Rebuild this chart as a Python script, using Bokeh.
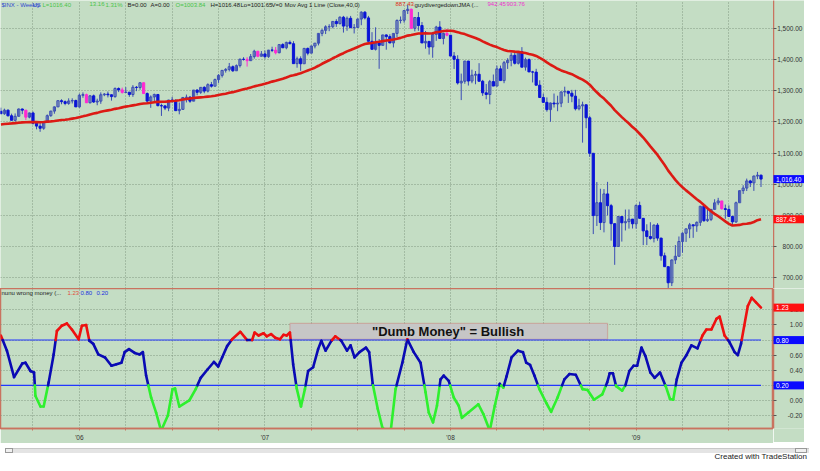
import numpy as np
import pandas as pd
from bokeh.plotting import figure
from bokeh.layouts import column, row
from bokeh.models import Range1d, FixedTicker, NumeralTickFormatter, Label, ColumnDataSource, BoxAnnotation, Div
from bokeh.core.properties import value
from bokeh.embed import file_html
from bokeh.resources import INLINE

# ---------------- data ----------------
first_week = "2005-08-05"

# 39 weekly closes before the first visible bar (feed the 40-week average)
history_closes = [1166.2, 1184.2, 1170.3, 1182.7, 1191.2, 1188.0, 1194.2, 1210.1, 1211.9, 1186.2,
                  1184.5, 1167.9, 1171.4, 1203.0, 1205.3, 1201.6, 1211.4, 1222.1, 1200.1, 1190.2,
                  1171.4, 1172.9, 1181.2, 1142.6, 1152.1, 1156.9, 1178.8, 1154.1, 1189.3, 1198.8,
                  1196.0, 1198.1, 1217.0, 1191.6, 1194.4, 1211.9, 1227.9, 1229.4, 1234.2]

opens = [
    # 2005
    1234.2, 1226.4, 1237.8, 1219.7, 1205.1, 1218.0, 1241.5, 1237.9, 1215.3, 1228.8, 1195.9, 1186.6, 1179.6, 1198.4,
    1220.1, 1234.7, 1248.3, 1268.3, 1265.1, 1259.4, 1267.3, 1268.7,
    # 2006
    1248.3, 1285.5, 1287.6, 1261.5, 1283.7, 1264.0, 1266.9, 1287.2, 1289.4, 1287.2, 1281.4, 1307.3, 1302.9, 1294.8,
    1295.5, 1288.1, 1311.3, 1310.6, 1325.8, 1291.2, 1267.0, 1280.2, 1288.2, 1252.3, 1251.5, 1244.5, 1270.2, 1265.5,
    1236.2, 1240.3, 1278.6, 1279.4, 1266.7, 1302.3, 1295.1, 1311.0, 1299.0, 1319.7, 1314.8, 1335.9, 1349.6, 1365.6,
    1368.6, 1377.3, 1364.3, 1380.9, 1401.2, 1400.9, 1396.7, 1409.8, 1427.1, 1410.8,
    # 2007
    1418.3, 1409.7, 1430.7, 1430.5, 1422.2, 1448.4, 1438.1, 1455.5, 1451.2, 1387.2, 1402.8, 1386.9, 1436.1, 1420.9,
    1443.8, 1452.9, 1484.4, 1494.1, 1505.6, 1505.9, 1522.8, 1515.7, 1536.3, 1507.7, 1532.9, 1502.6, 1503.4, 1530.4,
    1552.5, 1534.1, 1458.9, 1433.1, 1453.6, 1445.9, 1479.4, 1474.0, 1453.6, 1484.3, 1525.8, 1526.8, 1557.6, 1561.8,
    1500.6, 1535.3, 1509.7, 1453.7, 1458.7, 1440.7, 1481.1, 1504.7, 1467.9, 1484.5,
    # 2008
    1478.5, 1411.6, 1401.0, 1325.2, 1330.6, 1395.4, 1331.3, 1350.0, 1353.1, 1330.6, 1293.4, 1288.1, 1329.5, 1315.2,
    1370.4, 1332.8, 1390.3, 1397.8, 1413.9, 1388.3, 1425.4, 1375.9, 1400.4, 1360.7, 1360.0, 1317.9, 1278.4, 1262.9,
    1239.5, 1260.7, 1257.8, 1260.3, 1296.3, 1298.2, 1292.2, 1282.8, 1242.3, 1251.7, 1255.1, 1213.3, 1099.2, 899.2,
    940.6, 876.8, 968.8, 931.0, 873.3, 800.0, 896.2, 876.1, 879.7, 887.9,
    # 2009
    872.8, 931.8, 890.4, 850.1, 831.95, 825.9, 868.6, 826.8, 770.05, 735.1, 683.4, 756.6, 768.5, 815.9,
    842.5, 856.6, 869.6, 866.2, 877.5, 929.2, 882.9, 887.0, 919.1, 940.1, 946.2, 921.2, 918.9, 896.4,
    879.1, 940.4, 979.3, 987.5, 1010.5, 1004.1, 1026.1, 1028.9,
]

highs = [
    # 2005
    1245.9, 1242.6, 1239.9, 1226.6, 1227.3, 1243.1, 1242.9, 1237.9, 1229.9, 1233.3, 1198.7, 1197.3, 1198.4, 1224.0,
    1235.7, 1249.6, 1268.8, 1272.9, 1269.0, 1275.8, 1275.8, 1271.8,
    # 2006
    1290.8, 1294.9, 1290.8, 1286.4, 1287.9, 1274.6, 1294.9, 1292.7, 1297.6, 1288.5, 1310.9, 1310.9, 1310.2, 1311.7,
    1295.5, 1318.2, 1315.4, 1326.7, 1326.7, 1294.9, 1285.2, 1290.7, 1288.2, 1258.6, 1253.4, 1271.0, 1280.4, 1273.3,
    1262.4, 1280.0, 1287.9, 1283.3, 1302.3, 1305.0, 1312.0, 1314.7, 1324.0, 1328.5, 1339.2, 1353.5, 1366.6, 1372.9,
    1389.4, 1381.4, 1384.6, 1403.8, 1407.9, 1407.9, 1418.1, 1431.8, 1427.1, 1427.7,
    # 2007
    1429.4, 1431.2, 1441.6, 1440.7, 1449.3, 1452.9, 1457.6, 1461.6, 1459.3, 1409.8, 1410.6, 1437.7, 1438.9, 1444.9,
    1453.1, 1484.7, 1498.0, 1510.3, 1513.8, 1522.8, 1529.9, 1539.1, 1540.6, 1538.7, 1540.5, 1514.3, 1532.4, 1555.1,
    1555.9, 1540.6, 1488.3, 1503.9, 1466.3, 1479.4, 1481.2, 1481.5, 1484.3, 1529.4, 1538.7, 1558.0, 1576.1, 1563.8,
    1535.3, 1552.8, 1520.8, 1492.1, 1458.7, 1488.9, 1508.6, 1523.6, 1486.7, 1498.9,
    # 2008
    1478.5, 1424.5, 1414.2, 1355.2, 1396.0, 1396.0, 1367.9, 1363.4, 1388.7, 1335.1, 1321.7, 1334.9, 1352.3, 1380.9,
    1380.9, 1395.9, 1404.6, 1422.7, 1424.0, 1425.4, 1440.2, 1406.3, 1404.1, 1364.1, 1370.6, 1333.8, 1290.7, 1278.7,
    1262.3, 1291.2, 1284.2, 1297.9, 1313.2, 1298.2, 1303.0, 1303.0, 1274.4, 1265.1, 1255.1, 1220.0, 1099.2, 1006.9,
    985.4, 984.4, 1007.5, 936.6, 873.3, 896.2, 896.2, 918.6, 918.9, 887.9,
    # 2009
    934.7, 943.9, 890.4, 871.3, 877.9, 870.7, 875.0, 827.8, 780.1, 735.1, 758.3, 804.5, 832.1, 845.6,
    857.4, 875.6, 869.6, 880.4, 930.2, 929.6, 924.6, 920.0, 951.7, 956.2, 946.2, 934.6, 931.9, 898.6,
    944.0, 979.8, 996.7, 1018.0, 1014.1, 1027.6, 1039.5, 1030.9,
]

lows = [
    # 2005
    1224.6, 1222.7, 1217.5, 1205.1, 1201.1, 1218.0, 1225.0, 1205.4, 1211.6, 1191.8, 1176.2, 1168.2, 1174.8, 1198.4,
    1216.5, 1226.4, 1248.3, 1256.7, 1253.6, 1255.0, 1259.2, 1248.3,
    # 2006
    1245.7, 1277.6, 1260.9, 1259.4, 1261.0, 1253.6, 1258.1, 1282.7, 1278.7, 1268.4, 1277.6, 1295.8, 1291.0, 1293.3,
    1280.7, 1280.7, 1298.8, 1303.4, 1291.2, 1259.0, 1245.3, 1262.1, 1250.0, 1219.3, 1238.0, 1234.4, 1261.8, 1234.9,
    1224.5, 1238.6, 1262.6, 1261.3, 1266.7, 1285.6, 1290.1, 1292.0, 1294.8, 1310.2, 1313.9, 1325.3, 1342.6, 1358.5,
    1362.2, 1360.5, 1364.3, 1374.8, 1397.0, 1377.8, 1396.7, 1403.3, 1407.9, 1410.8,
    # 2007
    1403.0, 1405.8, 1424.2, 1416.9, 1420.6, 1437.8, 1433.4, 1449.5, 1386.6, 1374.1, 1364.0, 1386.9, 1413.9, 1420.9,
    1436.3, 1445.8, 1475.4, 1482.3, 1491.4, 1500.7, 1505.2, 1513.1, 1487.0, 1492.7, 1502.6, 1484.2, 1503.4, 1510.6,
    1529.2, 1458.9, 1433.1, 1429.4, 1370.6, 1445.9, 1432.0, 1453.6, 1439.3, 1471.8, 1516.3, 1518.6, 1546.7, 1500.6,
    1490.9, 1492.7, 1453.7, 1435.2, 1416.3, 1406.1, 1460.5, 1467.8, 1449.1, 1475.3,
    # 2008
    1411.2, 1370.0, 1320.0, 1270.1, 1322.5, 1316.8, 1324.3, 1321.0, 1330.6, 1283.6, 1272.7, 1257.0, 1315.2, 1315.2,
    1332.8, 1324.4, 1370.2, 1378.7, 1384.4, 1384.5, 1375.9, 1364.9, 1360.7, 1326.8, 1317.9, 1278.4, 1261.0, 1232.8,
    1200.4, 1246.2, 1234.4, 1247.5, 1282.0, 1261.0, 1263.3, 1236.9, 1237.1, 1133.5, 1179.8, 1088.0, 839.8, 865.8,
    852.9, 845.3, 899.7, 818.7, 741.0, 800.0, 815.7, 851.4, 857.4, 857.7,
    # 2009
    857.1, 888.3, 804.3, 804.5, 821.7, 812.9, 818.4, 754.3, 734.5, 666.8, 672.9, 743.7, 768.5, 779.8,
    814.5, 826.8, 827.7, 847.1, 866.1, 878.9, 879.0, 881.5, 919.0, 932.7, 918.4, 888.9, 896.4, 869.3,
    875.3, 940.4, 968.7, 978.1, 990.9, 978.5, 1016.2, 991.0,
]

closes = [
    # 2005
    1226.4, 1237.8, 1219.7, 1205.1, 1218.0, 1241.5, 1237.9, 1215.3, 1228.8, 1195.9, 1186.6, 1179.6, 1198.4, 1220.1,
    1234.7, 1248.3, 1268.3, 1265.1, 1259.4, 1267.3, 1268.7, 1248.3,
    # 2006
    1285.5, 1287.6, 1261.5, 1283.7, 1264.0, 1266.9, 1287.2, 1289.4, 1287.2, 1281.4, 1307.3, 1302.9, 1294.8, 1295.5,
    1288.1, 1311.3, 1310.6, 1325.8, 1291.2, 1267.0, 1280.2, 1288.2, 1252.3, 1251.5, 1244.5, 1270.2, 1265.5, 1236.2,
    1240.3, 1278.6, 1279.4, 1266.7, 1302.3, 1295.1, 1311.0, 1299.0, 1319.7, 1314.8, 1335.9, 1349.6, 1365.6, 1368.6,
    1377.3, 1364.3, 1380.9, 1401.2, 1400.9, 1396.7, 1409.8, 1427.1, 1410.8, 1418.3,
    # 2007
    1409.7, 1430.7, 1430.5, 1422.2, 1448.4, 1438.1, 1455.5, 1451.2, 1387.2, 1402.8, 1386.9, 1436.1, 1420.9, 1443.8,
    1452.9, 1484.4, 1494.1, 1505.6, 1505.9, 1522.8, 1515.7, 1536.3, 1507.7, 1532.9, 1502.6, 1503.4, 1530.4, 1552.5,
    1534.1, 1458.9, 1433.1, 1453.6, 1445.9, 1479.4, 1474.0, 1453.6, 1484.3, 1525.8, 1526.8, 1557.6, 1561.8, 1500.6,
    1535.3, 1509.7, 1453.7, 1458.7, 1440.7, 1481.1, 1504.7, 1467.9, 1484.5, 1478.5,
    # 2008
    1411.6, 1401.0, 1325.2, 1330.6, 1395.4, 1331.3, 1350.0, 1353.1, 1330.6, 1293.4, 1288.1, 1329.5, 1315.2, 1370.4,
    1332.8, 1390.3, 1397.8, 1413.9, 1388.3, 1425.4, 1375.9, 1400.4, 1360.7, 1360.0, 1317.9, 1278.4, 1262.9, 1239.5,
    1260.7, 1257.8, 1260.3, 1296.3, 1298.2, 1292.2, 1282.8, 1242.3, 1251.7, 1255.1, 1213.3, 1099.2, 899.2, 940.6,
    876.8, 968.8, 931.0, 873.3, 800.0, 896.2, 876.1, 879.7, 887.9, 872.8,
    # 2009
    931.8, 890.4, 850.1, 831.95, 825.9, 868.6, 826.8, 770.05, 735.1, 683.4, 756.6, 768.5, 815.9, 842.5,
    856.6, 869.6, 866.2, 877.5, 929.2, 882.9, 887.0, 919.1, 940.1, 946.2, 921.2, 918.9, 896.4, 879.1,
    940.4, 979.3, 987.5, 1010.5, 1004.1, 1026.1, 1028.9, 1016.4,
]

# bars painted magenta by the "guydivergedownJMA" study (week numbers)
magenta_weeks = [7, 24, 34, 40, 69, 72, 77, 115, 125, 202]

# "nunu wrong money" oscillator (week position, value)
ind_x = [0, 1.7, 3.7, 6.0, 6.9, 8.3, 9.3, 9.7, 11.1, 12.0,
         13.4, 14.8, 15.7, 17.1, 18.5, 19.9, 21.8, 22.7, 23.9, 24.8,
         25.9, 27.3, 29.2, 31.0, 32.4, 33.8, 34.7, 35.9, 37.5, 38.9,
         39.8, 40.7, 42.1, 43.5, 44.9, 46.8, 48.1, 48.8, 50.0, 52.8,
         54.6, 56.0, 57.9, 59.7, 60.9, 62.0, 63.4, 64.8, 67.1, 69.0,
         70.4, 71.1, 72.2, 73.6, 74.5, 75.7, 76.9, 78.2, 79.2, 80.1,
         81.0, 81.9, 82.9, 84.1, 85.2, 86.1, 87.5, 88.9, 89.8, 91.0,
         92.6, 93.7, 95.4, 97.0, 98.0, 99.1, 100.5, 102.3, 103.2, 104.2,
         105.6, 106.9, 108.3, 109.3, 110.6, 112.5, 113.9, 115.7, 117.6, 119.0,
         119.9, 121.1, 122.2, 123.2, 124.1, 125.5, 126.9, 128.3, 129.2, 131.0,
         133.8, 135.2, 137.0, 138.4, 139.8, 140.8, 141.7, 143.1, 144.9, 146.3,
         147.2, 148.3, 149.5, 150.9, 152.8, 154.2, 156.0, 157.9, 159.3, 161.1,
         163.0, 164.4, 166.2, 168.5, 169.9, 170.6, 171.5, 172.4, 174.1, 175.0,
         176.1, 177.3, 178.3, 179.5, 180.6, 182.0, 183.2, 184.7, 186.3, 187.5,
         188.4, 189.4, 190.7, 192.1, 193.5, 195.2, 196.6, 197.7, 199.1, 200.5,
         201.4, 202.8, 204.2, 205.6, 206.5, 207.4, 208.3, 209.3, 210.4, 211.6,
         213.0]
ind_v = [0.86, 0.66, 0.31, 0.49, 0.50, 0.39, 0.37, 0.06, -0.08, -0.08,
         0.24, 0.61, 0.92, 0.99, 1.02, 0.94, 0.81, 0.99, 1.00, 0.79,
         0.75, 0.61, 0.57, 0.46, 0.48, 0.50, 0.64, 0.68, 0.63, 0.61,
         0.64, 0.33, 0.04, -0.16, -0.40, -0.20, 0.15, 0.16, -0.08, 0.00,
         0.15, 0.30, 0.41, 0.51, 0.45, 0.57, 0.72, 0.81, 0.91, 0.80,
         0.80, 0.90, 0.86, 0.89, 0.85, 0.88, 0.83, 0.81, 0.87, 0.86,
         0.90, 0.48, 0.16, -0.08, 0.15, 0.39, 0.44, 0.68, 0.79, 0.66,
         0.79, 0.85, 0.79, 0.66, 0.73, 0.57, 0.64, 0.70, 0.64, 0.22,
         -0.11, -0.36, -0.41, -0.38, 0.15, 0.50, 0.81, 0.64, 0.50, 0.11,
         -0.16, -0.29, -0.07, 0.28, 0.33, 0.26, 0.04, -0.07, -0.23, -0.16,
         -0.05, -0.18, -0.40, -0.07, 0.22, 0.17, 0.32, 0.57, 0.66, 0.64,
         0.50, 0.47, 0.33, 0.15, -0.03, -0.15, 0.04, 0.28, 0.35, 0.34,
         0.15, 0.14, 0.01, 0.08, 0.24, 0.36, 0.36, 0.19, 0.13, 0.20,
         0.39, 0.46, 0.46, 0.70, 0.59, 0.37, 0.30, 0.37, 0.19, 0.02,
         0.01, 0.28, 0.50, 0.60, 0.73, 0.69, 0.86, 0.94, 0.94, 1.08,
         1.11, 0.86, 0.77, 0.64, 0.60, 0.75, 0.99, 1.25, 1.36, 1.30,
         1.23]

upper_level = 0.80
lower_level = 0.20
price_ticks = [700, 800, 900, 1000, 1100, 1200, 1300, 1400, 1500]
ind_ticks = [-0.2, 0.0, 0.2, 0.4, 0.6, 0.8, 1.0, 1.2]
ma_length = 40

assert len(opens) == len(highs) == len(lows) == len(closes) == 214
assert len(ind_x) == len(ind_v)

# ---------------- styling ----------------
BG = "#c4ddc4"
GRID = "#7c927c"
BORDER_RED = "#c9735f"
UP_LINE = "#3a4cb4"
DN_FILL = "#0a14d6"
MAG = "#ff2ad2"
MA_RED = "#dc1a14"
OSC_RED = "#ee1010"
OSC_BLUE = "#0a0ab4"
OSC_GREEN = "#2ef02e"
LEVEL_BLUE = "#2236ff"
BOX_BLUE = "#0a0aff"
BOX_RED = "#ff1010"
FONT = "Liberation Sans"
FW = 773   # chart frame width
AW = 31    # price-scale strip width

n = len(closes)
idx = np.arange(n)
dates = pd.date_range(first_week, periods=n + 8, freq="W-FRI")
quarter_ticks = [i for i in range(1, len(dates))
                 if dates[i].month != dates[i - 1].month and dates[i].month in (1, 4, 7, 10)]
overrides = {i: ("'" + dates[i].strftime("%y") if dates[i].month == 1 else "") for i in quarter_ticks}

all_closes = pd.Series(history_closes + closes)
ma = all_closes.rolling(ma_length).mean().to_numpy()[len(history_closes):]
ma_last = f"{round(ma[-1] + 1e-9, 2):.2f}"

o = np.array(opens); h = np.array(highs); l = np.array(lows); c = np.array(closes)
is_mag = np.isin(idx, magenta_weeks)
fill = np.where(is_mag, MAG, np.where(c >= o, "rgba(0,0,0,0)", DN_FILL))
line = np.where(is_mag, MAG, np.where(c >= o, UP_LINE, DN_FILL))
wick = np.where(is_mag, MAG, UP_LINE)
src = ColumnDataSource(dict(x=idx, o=o, h=h, l=l, c=c, top=np.maximum(o, c), bot=np.minimum(o, c),
                            fill=fill, line=line, wick=wick))

xr = Range1d(-0.1, 216.5)
yr_price = Range1d(665, 1590)
yr_ind = Range1d(-0.371, 1.483)


def style_grid(p, yticks):
    for g in (p.xgrid[0], p.ygrid[0]):
        g.grid_line_color = GRID
        g.grid_line_dash = "1 2"
        g.grid_line_alpha = 0.9
    p.xgrid[0].ticker = FixedTicker(ticks=quarter_ticks)
    p.ygrid[0].ticker = FixedTicker(ticks=yticks)


def add_text(p, x, y, text, color, size="6px", **kw):
    p.add_layout(Label(x=x, y=y, x_units="screen", y_units="screen", text=text, text_color=color,
                       text_font=FONT, text_font_size=size, **kw))


def scale_strip(y_range, height, ticks, fmt, bottom, boxes):
    """Narrow strip right of a pane: price scale (left axis, labels drawn to the right) + value boxes."""
    s = figure(frame_width=AW, frame_height=height, x_range=Range1d(0, 1), y_range=y_range,
               output_backend="svg", toolbar_location=None, tools="", x_axis_location=None,
               y_axis_location="left", background_fill_color=BG, border_fill_color=BG,
               min_border_left=0, min_border_right=0, min_border_top=0, min_border_bottom=bottom,
               outline_line_color=None)
    s.xgrid.visible = False
    s.ygrid.visible = False
    ax = s.yaxis[0]
    ax.ticker = FixedTicker(ticks=ticks)
    ax.formatter = NumeralTickFormatter(format=fmt)
    ax.major_label_text_font = FONT
    ax.major_label_text_font_size = "6.5px"
    ax.major_label_text_color = "#333333"
    ax.major_label_standoff = -(AW - 2)
    ax.axis_line_color = BORDER_RED
    ax.axis_line_width = 1.5
    ax.major_tick_in = 3
    ax.major_tick_out = 0
    ax.major_tick_line_color = "#555555"
    ax.minor_tick_in = 0
    ax.minor_tick_out = 0
    bsrc = ColumnDataSource(dict(y=[b[0] for b in boxes], t=[b[1] for b in boxes], c=[b[2] for b in boxes]))
    s.rect(x=0.5, y="y", width=1, height=8, height_units="screen", fill_color="c", line_color=None,
           source=bsrc, level="overlay")
    s.text(x=0.08, y="y", text="t", text_color="white", text_font=value(FONT), text_font_size="6.5px",
           text_baseline="middle", source=bsrc, level="overlay")
    return s


# ---------------- price pane ----------------
p1 = figure(frame_width=FW, frame_height=288, x_range=xr, y_range=yr_price,
            output_backend="svg", toolbar_location=None, tools="", x_axis_location=None,
            y_axis_location=None, background_fill_color=BG, border_fill_color=BG,
            min_border_left=0, min_border_top=0, min_border_bottom=0, min_border_right=0,
            outline_line_color=None)
style_grid(p1, price_ticks)

p1.segment(x0="x", y0="h", x1="x", y1="l", color="wick", line_width=1, source=src)
p1.vbar(x="x", top="top", bottom="bot", width=0.62, fill_color="fill", line_color="line", line_width=1, source=src)
p1.line(idx, ma, color=MA_RED, line_width=2.6)

hy = 288 - 1
header = [
    (1, "$INX - Weekly", "#3048d0"), (32, "US", "#3048d0"), (42, "L=1016.40", "#49c449"),
    (89, "13.16", "#49c449"), (105, "1.31%", "#49c449"), (127, "B=0.00", "#222222"),
    (150, "A=0.00", "#222222"), (175, "O=1003.84", "#49c449"), (210, "H=1016.48", "#222222"),
    (240, "Lo=1001.65", "#222222"), (271, "V=0", "#222222"), (284, "Mov Avg 1 Line (Close,40,0)", "#222222"),
    (395, ma_last, "#e03020"), (414, "guydivergedownJMA (...", "#222222"),
    (487, "942.45", "#ee30d0"), (506, "903.76", "#ee30d0"),
]
for x, t, col in header:
    add_text(p1, x, hy, t, col, text_baseline="top")

p1s = scale_strip(yr_price, 288, price_ticks, "0,0.00", 0,
                  [(closes[-1], f"{closes[-1]:,.2f}", BOX_BLUE), (ma[-1], ma_last, BOX_RED)])

# ---------------- oscillator pane ----------------
p2 = figure(frame_width=FW, frame_height=140, x_range=xr, y_range=yr_ind,
            output_backend="svg", toolbar_location=None, tools="", y_axis_location=None,
            background_fill_color=BG, border_fill_color=BG, min_border_left=0, min_border_top=0,
            min_border_bottom=14, min_border_right=0, outline_line_color=BORDER_RED, outline_line_width=1.5)
style_grid(p2, ind_ticks)
xa = p2.xaxis[0]
xa.ticker = FixedTicker(ticks=quarter_ticks)
xa.major_label_overrides = overrides
xa.major_label_text_font = FONT
xa.major_label_text_font_size = "6.5px"
xa.major_label_text_color = "#333333"
xa.major_label_standoff = 3
xa.axis_line_color = BORDER_RED
xa.axis_line_width = 1.5
xa.major_tick_in = 0
xa.major_tick_out = 2
xa.major_tick_line_color = BORDER_RED
xa.minor_tick_out = 0

# annotation box
p2.add_layout(BoxAnnotation(left=81, right=170, bottom=0.81, top=1.02, fill_color="#c6c6c6", fill_alpha=1.0,
                            line_color="#d05050", line_width=1.2, level="underlay"))

# threshold lines
p2.segment(x0=[idx[0]] * 2, y0=[upper_level, lower_level], x1=[idx[-1]] * 2, y1=[upper_level, lower_level],
           color=LEVEL_BLUE, line_width=1.1)

# colour segments of the oscillator by zone
seg = dict(x0=[], y0=[], x1=[], y1=[], col=[])
for (xa_, va), (xb, vb) in zip(zip(ind_x, ind_v), zip(ind_x[1:], ind_v[1:])):
    pts = [(xa_, va)]
    cuts = []
    for lv in (lower_level, upper_level):
        if (va - lv) * (vb - lv) < 0:
            t = (lv - va) / (vb - va)
            cuts.append((t, xa_ + t * (xb - xa_), lv))
    for t, cx, cy in sorted(cuts):
        pts.append((cx, cy))
    pts.append((xb, vb))
    for (px0, py0), (px1, py1) in zip(pts, pts[1:]):
        mid = (py0 + py1) / 2
        seg["x0"].append(px0); seg["y0"].append(py0)
        seg["x1"].append(px1); seg["y1"].append(py1)
        seg["col"].append(OSC_RED if mid > upper_level else OSC_GREEN if mid < lower_level else OSC_BLUE)
p2.segment(x0="x0", y0="y0", x1="x1", y1="y1", color="col", line_width=2.6, line_cap="round",
           source=ColumnDataSource(seg))

p2.add_layout(Label(x=125.3, y=0.915, text='"Dumb Money" = Bullish', text_font=FONT, text_font_size="13px",
                    text_font_style="bold", text_color="#111111", text_align="center", text_baseline="middle"))

add_text(p2, 1, 136, "nunu wrong money (...", "#222222", text_baseline="middle")
add_text(p2, 67, 136, f"{ind_v[-1]:.2f}", "#e05040", text_baseline="middle")
add_text(p2, 80, 136, f"{upper_level:.2f}", "#2030e0", text_baseline="middle")
add_text(p2, 96, 136, f"{lower_level:.2f}", "#2030e0", text_baseline="middle")

p2s = scale_strip(yr_ind, 140, ind_ticks, "0.00", 14,
                  [(ind_v[-1], f"{ind_v[-1]:.2f}", BOX_RED), (upper_level, f"{upper_level:.2f}", BOX_BLUE),
                   (lower_level, f"{lower_level:.2f}", BOX_BLUE)])

footer = Div(width=FW + AW, height=13, text=(
    '<div style="position:relative;width:804px;height:13px;font-family:\'Liberation Sans\';">'
    '<div style="position:absolute;left:0;top:0;width:804px;height:5px;background:#e4e4e4;'
    'border-top:1px solid #c8c8c8;"></div>'
    '<div style="position:absolute;left:0;top:0;width:8px;height:5px;border:1px solid #999;background:#f0f0f0;"></div>'
    '<div style="position:absolute;left:790px;top:0;width:12px;height:5px;border:1px solid #999;background:#f0f0f0;"></div>'
    '<div style="position:absolute;right:2px;bottom:0;font-size:8px;line-height:8px;color:#222;">'
    'Created with TradeStation</div></div>'))

layout = column(row(p1, p1s, spacing=0), row(p2, p2s, spacing=0), footer, spacing=0)
open("out.html", "w").write(file_html(layout, INLINE))
